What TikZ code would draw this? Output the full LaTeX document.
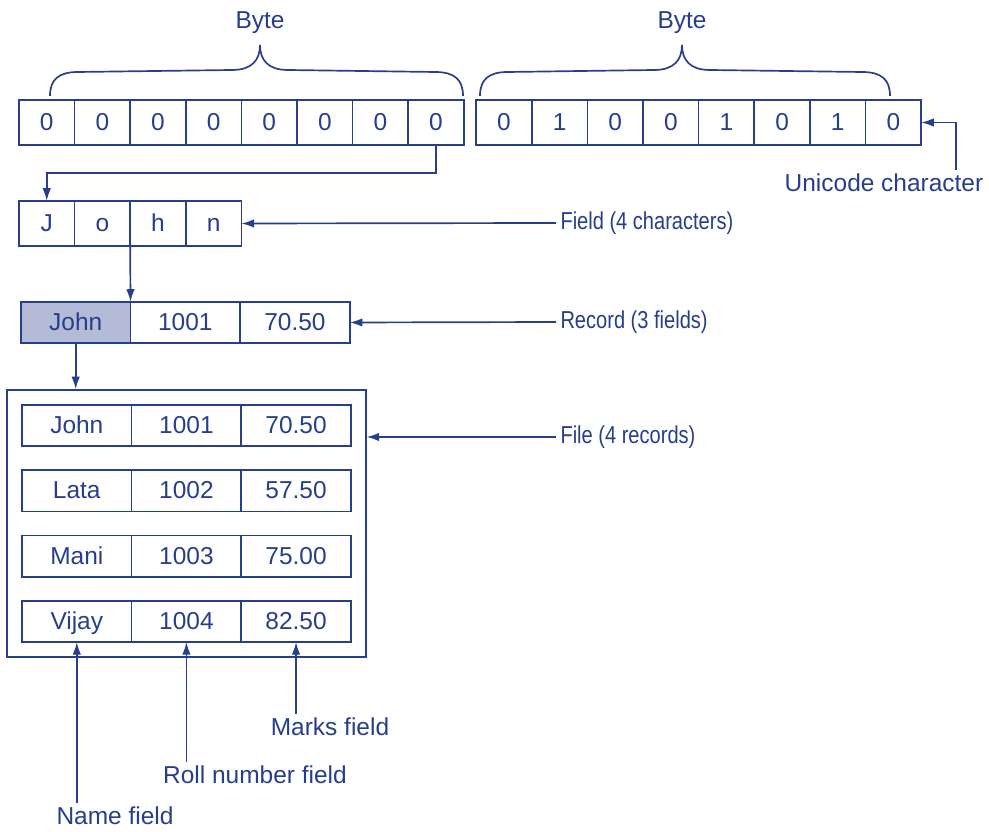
\documentclass[tikz,border=0pt]{standalone}
\usepackage{fontspec}
\setmainfont{Liberation Sans}
\newfontfamily\estreita{Liberation Sans}[FakeStretch=0.82]
\usepackage{xcolor}
\usepackage{tikz}
\usetikzlibrary{arrows.meta, positioning, fit}
\definecolor{tinta}{RGB}{38,62,140}

\begin{document}
\begin{tikzpicture}[
    x=0.025cm, y=-0.025cm,
    >={Latex[length=9pt,width=6pt]},
    celula/.style={
        rectangle,
        draw=tinta,
        line width=1.2pt,
        minimum width=1.39cm,
        minimum height=1.13cm,
        inner sep=0pt,
        outer sep=0pt,
        text height=12.5pt,
        text depth=1pt,
        text=tinta,
        font=\fontsize{17.4}{20}\selectfont
    },
    campo/.style={celula, minimum width=2.74cm, minimum height=1.03cm},
    rotulo/.style={text=tinta, inner sep=3pt, font=\fontsize{17.4}{20}\selectfont},
    rotuloe/.style={rotulo, font=\fontsize{17.4}{20}\selectfont\estreita},
    chave/.style={draw=tinta, line width=1.2pt},
    seta/.style={->, draw=tinta, line width=1.2pt}
]
\useasboundingbox (0,0) rectangle (989,832);

% two bytes
\node[celula] (a1) at (46.75,122.5) {0};
\foreach \b [count=\i from 2, remember=\i as \j (initially 1)] in {0,0,0,0,0,0,0}
    \node[celula, right=0pt of a\j] (a\i) {\b};

\node[celula] (b1) at (504,122.5) {0};
\foreach \b [count=\i from 2, remember=\i as \j (initially 1)] in {1,0,0,1,0,1,0}
    \node[celula, right=0pt of b\j] (b\i) {\b};

% braces
\foreach \e/\m/\d [count=\k] in {50/260/463, 480/682/890} {
    \draw[chave] (\e,96) .. controls (\e,80) and (\e+8,72) .. (\e+28,72)
        -- (\m-28,70) .. controls (\m-8,70) and (\m,60) .. (\m,45)
        .. controls (\m,60) and (\m+8,70) .. (\m+28,70)
        -- (\d-28,72) .. controls (\d-8,72) and (\d,80) .. (\d,96);
    \node[rotulo] (byte\k) at (\m,23) {Byte};
}

% field
\node[celula] (c1) at (46.75,223.5) {J};
\foreach \b [count=\i from 2, remember=\i as \j (initially 1)] in {o,h,n}
    \node[celula, right=0pt of c\j] (c\i) {\b};

% record
\node[campo, fill=tinta!35] (r1) at (75.7,322.5) {John};
\node[campo, right=0pt of r1] (r2) {1001};
\node[campo, right=0pt of r2] (r3) {70.50};

% file
\foreach \nm/\rl/\mk [count=\r] in {John/1001/70.50, Lata/1002/57.50, Mani/1003/75.00, Vijay/1004/82.50} {
    \node[campo] (f\r-1) at (76.8,425.5+65.3*\r-65.3) {\nm};
    \node[campo, right=0pt of f\r-1] (f\r-2) {\rl};
    \node[campo, right=0pt of f\r-2] (f\r-3) {\mk};
}
\node[draw=tinta, line width=1.2pt, inner sep=0.37cm, fit=(f1-1)(f4-3)] (arquivo) {};

% labels
\node[rotulo] (unicode) at (884,183) {Unicode character};
\node[rotuloe, anchor=west] (lcampo) at (556,223) {Field (4 characters)};
\node[rotuloe, anchor=west] (lregistro) at (556,322) {Record (3 fields)};
\node[rotuloe, anchor=west] (larquivo) at (556,437) {File (4 records)};
\node[rotulo] (lnome) at (115,816) {Name field};
\node[rotulo] (lrolo) at (255,775) {Roll number field};
\node[rotulo] (lnota) at (330,727) {Marks field};

% arrows
\draw[seta] (a8.south) -- ++(0,28) -| (c1.north);
\draw[seta] ([xshift=-0.8cm]unicode.north east) |- (b8.east);
\draw[seta] (lcampo.west) -- (c4.east);
\draw[seta] (c2.south east) -- (r1.north east);
\draw[seta] (lregistro.west) -- (r3.east);
\draw[seta] (r1.south) -- (r1.south |- arquivo.north);
\draw[seta] (larquivo.west) -- (larquivo.west -| arquivo.east);
\draw[seta] (f4-1.south |- lnome.north) -- (f4-1.south);
\draw[seta] (f4-2.south |- lrolo.north) -- (f4-2.south);
\draw[seta] (f4-3.south |- lnota.north) -- (f4-3.south);

\end{tikzpicture}
\end{document}
